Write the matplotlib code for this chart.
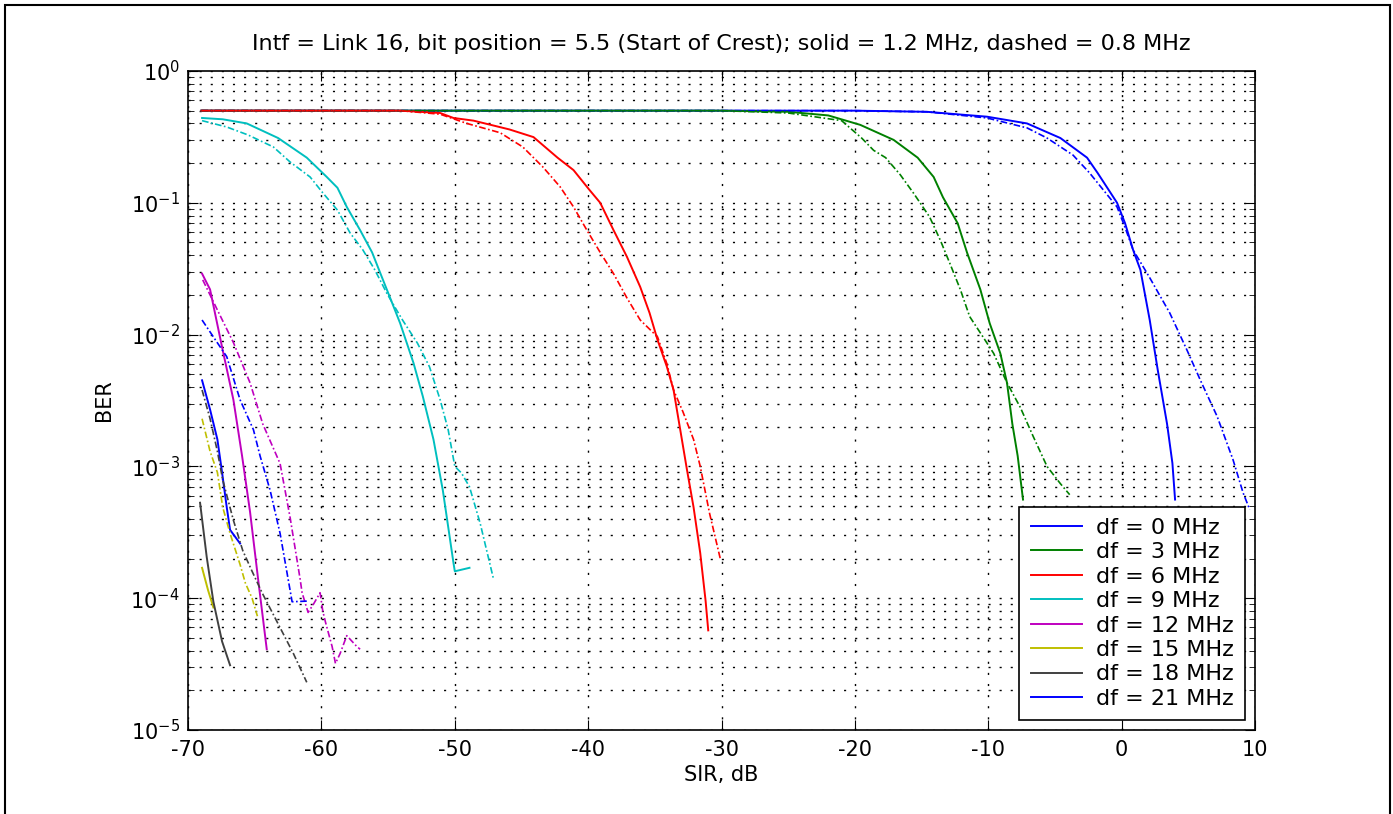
import numpy as np
import matplotlib.pyplot as plt
from matplotlib.patches import Rectangle

plt.rcParams['font.family'] = ['DejaVu Sans']
plt.rcParams['axes.unicode_minus'] = False

# df = 0 MHz
sir_0_solid = [-69, -40, -20, -14.6, -10.1, -7.1, -4.6, -2.6, -1.8, -0.35, 0.25, 0.85, 1.4, 2.1, 2.7, 3.4, 3.8, 4.0]
ber_0_solid = [0.5, 0.5, 0.5, 0.49, 0.45, 0.40, 0.31, 0.22, 0.168, 0.1, 0.07, 0.044, 0.031, 0.0129, 0.0054, 0.0021, 0.00106, 0.00056]
sir_0_dash = [-69, -40, -20, -14.6, -10.1, -7.1, -5.6, -3.65, -2.4, -0.35, 0.25, 0.85, 2.1, 3.6, 4.9, 5.9, 7.15, 8.35, 9.1, 9.6]
ber_0_dash = [0.5, 0.5, 0.5, 0.49, 0.44, 0.37, 0.31, 0.23, 0.168, 0.093, 0.065, 0.044, 0.027, 0.0146, 0.0076, 0.0045, 0.0024, 0.00112, 0.00063, 0.00047]

# df = 3 MHz
sir_3_solid = [-69, -30, -25, -22, -19.6, -17.1, -15.3, -14.1, -13.4, -12.3, -11.6, -10.6, -9.9, -9.1, -8.6, -8.2, -7.8, -7.4]
ber_3_solid = [0.5, 0.5, 0.49, 0.46, 0.39, 0.30, 0.22, 0.157, 0.11, 0.07, 0.042, 0.022, 0.0122, 0.0072, 0.0043, 0.0021, 0.0012, 0.00056]
sir_3_dash = [-69, -30, -25, -21, -19.5, -18.6, -17.7, -16.6, -15.6, -14.4, -13.6, -12.9, -12.1, -11.4, -10.4, -9.6, -8.6, -7.6, -6.65, -5.6, -4.6, -3.9]
ber_3_dash = [0.5, 0.5, 0.48, 0.42, 0.31, 0.25, 0.22, 0.163, 0.118, 0.078, 0.052, 0.035, 0.022, 0.0137, 0.0096, 0.0072, 0.0043, 0.0028, 0.0017, 0.001, 0.00074, 0.00061]

# df = 6 MHz
sir_6_solid = [-69, -54.1, -51.1, -50.1, -48.6, -45.9, -44.1, -42.3, -41.1, -39.9, -39.1, -38.1, -37.1, -36.1, -35.4, -34.8, -34.1, -33.6, -33.1, -32.6, -32.1, -31.6, -31.2, -31.0]
ber_6_solid = [0.5, 0.5, 0.48, 0.44, 0.42, 0.36, 0.315, 0.22, 0.177, 0.125, 0.1, 0.062, 0.039, 0.023, 0.0146, 0.0091, 0.0057, 0.0038, 0.0019, 0.00095, 0.00049, 0.00022, 9.6e-05, 5.7e-05]
sir_6_dash = [-69, -54.1, -51.1, -49.1, -46.6, -44.9, -43.4, -42.1, -41.1, -40.1, -39.1, -38.1, -37.1, -36.1, -34.8, -34.1, -33.6, -32.9, -32.1, -31.6, -30.9, -30.1]
ber_6_dash = [0.5, 0.5, 0.47, 0.40, 0.34, 0.265, 0.187, 0.132, 0.093, 0.062, 0.042, 0.029, 0.019, 0.0129, 0.0096, 0.006, 0.0038, 0.0026, 0.0016, 0.001, 0.00044, 0.0002]

# df = 9 MHz
sir_9_solid = [-68.95, -67.4, -65.6, -63.25, -61.1, -59.6, -58.8, -58.1, -57.1, -56.2, -55.45, -54.85, -54.1, -53.1, -52.4, -51.6, -50.9, -50.1, -50.0, -48.9]
ber_9_solid = [0.44, 0.43, 0.40, 0.31, 0.22, 0.157, 0.13, 0.093, 0.062, 0.042, 0.027, 0.019, 0.0122, 0.0061, 0.0034, 0.0016, 0.00066, 0.000185, 0.00016, 0.00017]
sir_9_dash = [-68.95, -67.1, -65.5, -63.6, -62.35, -60.85, -59.9, -58.8, -57.85, -56.9, -56.0, -55.1, -54.5, -53.9, -52.8, -51.9, -51.1, -50.5, -50.0, -49.5, -48.9, -48.1, -47.1]
ber_9_dash = [0.42, 0.376, 0.327, 0.265, 0.204, 0.157, 0.119, 0.088, 0.059, 0.044, 0.031, 0.0206, 0.0162, 0.0128, 0.0086, 0.0057, 0.0032, 0.0019, 0.001, 0.00089, 0.0007, 0.00037, 0.00014]

# df = 12 MHz
sir_12_solid = [-68.95, -68.35, -67.4, -66.6, -65.95, -65.35, -64.75, -64.1]
ber_12_solid = [0.029, 0.022, 0.0076, 0.0032, 0.0012, 0.00045, 0.00014, 4.1e-05]
sir_12_dash = [-68.9, -67.75, -66.6, -65.35, -64.4, -63.1, -62.35, -61.6, -61.45, -61.0, -60.6, -60.1, -59.9, -59.7, -59.2, -58.95, -58.6, -58.1, -57.35, -57.1]
ber_12_dash = [0.026, 0.015, 0.0087, 0.0043, 0.0021, 0.00105, 0.00041, 0.00014, 0.00011, 7.8e-05, 9e-05, 0.00011, 8e-05, 6.6e-05, 4.3e-05, 3.2e-05, 3.8e-05, 5.2e-05, 4.3e-05, 4.1e-05]

# df = 15 MHz
sir_15_solid = [-68.95, -68.5, -68.1]
ber_15_solid = [0.00017, 0.000115, 8.5e-05]
sir_15_dash = [-68.95, -68.35, -67.8, -67.4, -66.85, -66.1, -65.7, -65.2, -64.8]
ber_15_dash = [0.0023, 0.0013, 0.0009, 0.00049, 0.00031, 0.00018, 0.00013, 0.0001, 7.3e-05]

# df = 18 MHz
sir_18_solid = [-69.1, -68.6, -68.1, -67.45, -66.85]
ber_18_solid = [0.00053, 0.000205, 9.4e-05, 4.7e-05, 3.1e-05]
sir_18_dash = [-68.95, -68.35, -67.8, -67.4, -66.6, -65.9, -65.2, -64.45, -62.1, -61.1]
ber_18_dash = [0.0038, 0.0023, 0.0013, 0.00079, 0.00039, 0.00023, 0.00016, 0.00011, 3.8e-05, 2.3e-05]

# df = 21 MHz
sir_21_solid = [-68.95, -68.35, -67.8, -67.45, -67.1, -66.85, -66.1]
ber_21_solid = [0.0045, 0.0027, 0.0016, 0.0009, 0.00049, 0.00033, 0.00026]
sir_21_dash = [-68.95, -68.1, -67.1, -66.1, -65.1, -64.6, -63.85, -63.1, -62.5, -62.2, -61.1]
ber_21_dash = [0.0129, 0.0096, 0.0068, 0.0032, 0.0019, 0.0012, 0.00066, 0.00031, 0.00014, 9.4e-05, 9.5e-05]

labels = ['df = 0 MHz', 'df = 3 MHz', 'df = 6 MHz', 'df = 9 MHz',
          'df = 12 MHz', 'df = 15 MHz', 'df = 18 MHz', 'df = 21 MHz']
colors = ['#0000ff', '#008000', '#ff0000', '#00bfbf',
          '#bf00bf', '#bfbf00', '#404040', '#0000ff']

solid = [(sir_0_solid, ber_0_solid), (sir_3_solid, ber_3_solid), (sir_6_solid, ber_6_solid),
         (sir_9_solid, ber_9_solid), (sir_12_solid, ber_12_solid), (sir_15_solid, ber_15_solid),
         (sir_18_solid, ber_18_solid), (sir_21_solid, ber_21_solid)]
dashed = [(sir_0_dash, ber_0_dash), (sir_3_dash, ber_3_dash), (sir_6_dash, ber_6_dash),
          (sir_9_dash, ber_9_dash), (sir_12_dash, ber_12_dash), (sir_15_dash, ber_15_dash),
          (sir_18_dash, ber_18_dash), (sir_21_dash, ber_21_dash)]

fig = plt.figure(figsize=(13.93, 8.14), dpi=100)
ax = fig.add_axes([0.135, 0.1032, 0.766, 0.8096])

for (x, y), c, lab in zip(solid, colors, labels):
    ax.plot(x, y, color=c, lw=1.4, label=lab)
for (x, y), c in zip(dashed, colors):
    ax.plot(x, y, color=c, lw=1.2, linestyle=(0, (4, 1.5, 1, 1.5)))

ax.set_yscale('log')
ax.set_xlim(-70, 10)
ax.set_ylim(1e-5, 1)
ax.set_xticks(np.arange(-70, 11, 10))
dots = (0, (1.5, 6.5))
ax.grid(True, which='major', linestyle=dots, color='black', lw=1.0)
ax.grid(True, which='minor', axis='y', linestyle=dots, color='black', lw=1.0)
ax.tick_params(which='both', direction='in', top=True, right=True, labelsize=15)
ax.tick_params(axis='x', which='major', pad=7)
ax.tick_params(axis='y', which='major', pad=6)
ax.tick_params(which='major', length=7)
ax.tick_params(which='minor', length=4)
for s in ax.spines.values():
    s.set_linewidth(1.2)

ax.set_title('Intf = Link 16, bit position = 5.5 (Start of Crest); solid = 1.2 MHz, dashed = 0.8 MHz',
             fontsize=16, pad=15)
ax.set_xlabel('SIR, dB', fontsize=15, labelpad=4)
ax.set_ylabel('BER', fontsize=15, labelpad=12)

leg = ax.legend(loc='lower right', fontsize=16, fancybox=False, framealpha=1,
                edgecolor='black', borderaxespad=0.45, handlelength=2.3,
                handletextpad=0.65, labelspacing=0.2, borderpad=0.5)
leg.get_frame().set_linewidth(1.2)

fig.patches.append(Rectangle((5 / 1393, -0.02), 1385 / 1393, 1.0 - 5 / 814 + 0.02,
                             transform=fig.transFigure, fill=False, edgecolor='black', lw=1.5))

fig.savefig('out.png', dpi=100)
